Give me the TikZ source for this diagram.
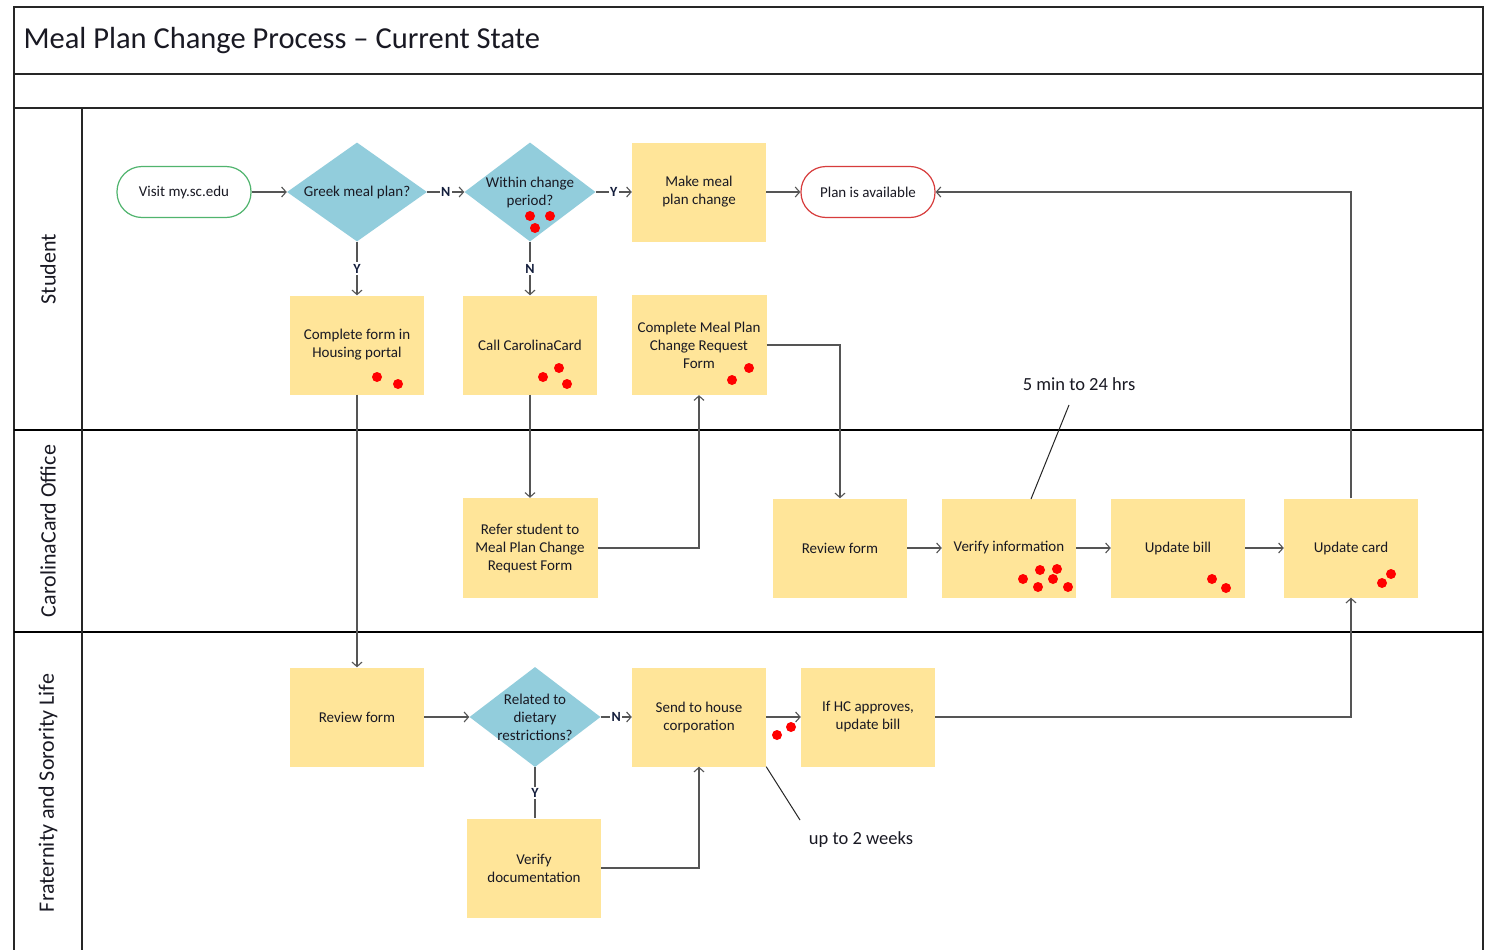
\documentclass[tikz,border=0pt]{standalone}
\usepackage{fontspec}
\setmainfont{Carlito}
\usetikzlibrary{shapes.geometric,arrows.meta,calc}
\definecolor{boxy}{RGB}{255,229,153}
\definecolor{diab}{RGB}{146,205,220}
\definecolor{lineg}{RGB}{85,85,85}
\definecolor{termg}{RGB}{80,180,110}
\definecolor{termr}{RGB}{215,60,60}
\definecolor{txtc}{RGB}{25,25,35}
\definecolor{ynav}{RGB}{20,30,60}
\begin{document}
\begin{tikzpicture}[x=1pt,y=-1pt,
  procbox/.style={fill=boxy, minimum width=134pt, minimum height=99pt, align=center,
    font=\fontsize{15}{18}\selectfont, text=txtc, inner sep=2pt},
  dec/.style={diamond, fill=diab, minimum height=99pt, inner sep=0pt},
  dtxt/.style={align=center, font=\fontsize{15}{18}\selectfont, text=txtc, inner sep=0pt},
  term/.style={rectangle, rounded corners=25pt, fill=white, line width=1.2pt,
    minimum width=134pt, minimum height=51pt, font=\fontsize{15}{18}\selectfont, text=txtc},
  conn/.style={draw=lineg, line width=1.1pt},
  arr/.style={conn, -{Straight Barb[length=4.5pt,width=10pt,line width=1.1pt]}},
  yn/.style={fill=white, inner sep=1.5pt, font=\bfseries\fontsize{14}{15}\selectfont, text=ynav},
  lanel/.style={draw=black, line width=1.6pt},
  framel/.style={draw=black!85, line width=1.3pt},
  lanelab/.style={rotate=90, font=\fontsize{22}{24}\selectfont, text=txtc},
  anno/.style={font=\fontsize{18.5}{20}\selectfont, text=txtc},
  annol/.style={draw=black!85, line width=1pt},
  reddot/.style={fill=red}
]
\useasboundingbox (0,0) rectangle (1491,950);
\fill[white] (0,0) rectangle (1491,950);
% frame and lanes
\draw[framel] (14,950) -- (14,7) -- (1483,7) -- (1483,950);
\draw[framel] (14,74) -- (1483,74);
\draw[framel] (14,108) -- (1483,108);
\draw[lanel] (14,430) -- (1483,430);
\draw[lanel] (14,632) -- (1483,632);
\draw[framel] (82,108) -- (82,950);
\node[anchor=west, font=\fontsize{30.5}{34}\selectfont, text=txtc] (title) at (20,41) {Meal Plan Change Process – Current State};
\node[lanelab] (lstu) at (48,269) {Student};
\node[lanelab] (lcc) at (48,531) {CarolinaCard Office};
\node[lanelab] (lfsl) at (48,793) {Fraternity and Sorority Life};
% nodes
\node[term, draw=termg] (visit) at (184,192) {Visit my.sc.edu};
\node[dec, minimum width=140pt, label={[dtxt]center:Greek meal plan?}] (greek) at (357,192) {};
\node[dec, minimum width=131pt, label={[dtxt]center:Within change\\period?}] (within) at (530,192) {};
\node[procbox] (make) at (699,192) {Make meal\\plan change};
\node[term, draw=termr] (plan) at (868,192) {Plan is available};
\node[procbox] (cfhp) at (357,345) {Complete form in\\Housing portal};
\node[procbox] (call) at (530,345) {Call CarolinaCard};
\node[procbox, minimum width=135pt, minimum height=100pt] (mpcrf) at (699,345) {Complete Meal Plan\\Change Request\\Form};
\node[procbox, minimum width=135pt, minimum height=100pt] (refer) at (530,548) {Refer student to\\Meal Plan Change\\Request Form};
\node[procbox] (review) at (840,548) {Review form};
\node[procbox] (verinfo) at (1009,548) {Verify information};
\node[procbox] (updbill) at (1178,548) {Update bill};
\node[procbox] (updcard) at (1351,548) {Update card};
\node[procbox] (review2) at (357,717) {Review form};
\node[dec, minimum width=131pt, minimum height=100pt, label={[dtxt]center:Related to\\dietary\\restrictions?}] (dietary) at (535,717) {};
\node[procbox] (send) at (699,717) {Send to house\\corporation};
\node[procbox] (ifhc) at (868,717) {If HC approves,\\update bill};
\node[procbox] (verdoc) at (534,868) {Verify\\documentation};
% connectors
\draw[arr] (visit) -- (greek);
\draw[arr] (greek) -- node[yn]{N} (within);
\draw[arr] (within) -- node[yn]{Y} (make);
\draw[arr] (make) -- (plan);
\draw[arr] (greek) -- node[yn]{Y} (cfhp);
\draw[arr] (within) -- node[yn]{N} (call);
\draw[arr] (cfhp) -- (review2);
\draw[arr] (call) -- (refer);
\draw[arr] (refer.east) -| (mpcrf.south);
\draw[arr] (mpcrf.east) -| (review.north);
\draw[arr] (review) -- (verinfo);
\draw[arr] (verinfo) -- (updbill);
\draw[arr] (updbill) -- (updcard);
\draw[arr] (updcard.north) |- (plan.east);
\draw[arr] (review2) -- (dietary);
\draw[arr] (dietary) -- node[yn]{N} (send);
\draw[conn] (dietary.south) -- node[yn]{Y} (dietary.south |- verdoc.north);
\draw[arr] (verdoc.east) -| (send.south);
\draw[arr] (send) -- (ifhc);
\draw[arr] (ifhc.east) -| (updcard.south);
% annotations
\node[anno] (t1) at (1079,384) {5 min to 24 hrs};
\coordinate (c1a) at (1069,405);
\coordinate (c1b) at (1031,499);
\draw[annol] (c1a) -- (c1b);
\node[anno] (t2) at (861,840) {up to 2 weeks};
\coordinate (c2b) at (800,820);
\draw[annol] (send.south east) -- (c2b);
% red dots
\foreach \p in {(530,216),(550,216),(535,228),
  (377,377),(398,384),
  (559,368),(543,377),(567,384),
  (749,368),(732,380),
  (1023,579),(1040,570),(1057,569),(1053,579),(1038,587),(1068,587),
  (1212,579),(1226,588),
  (1391,574),(1382,583),
  (777,735),(791,727)}
  \fill[reddot] \p circle (5pt);
\end{tikzpicture}
\end{document}
